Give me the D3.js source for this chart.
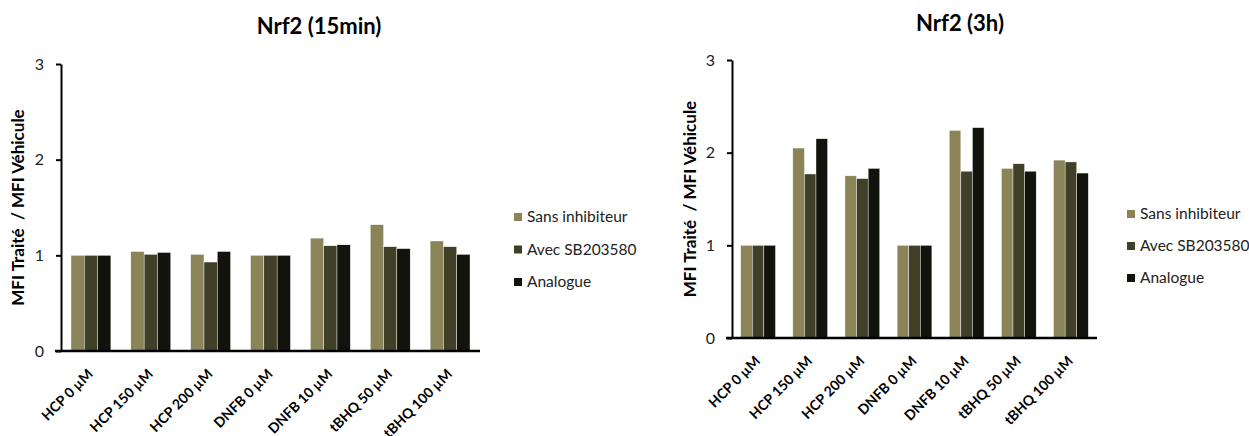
<!DOCTYPE html>
<html><head><meta charset="utf-8">
<script src="https://cdn.jsdelivr.net/npm/d3@7/dist/d3.min.js"></script>
<style>
body{margin:0;background:#fff;}
svg{display:block;font-family:Lato,"Open Sans",sans-serif;}
</style></head>
<body><svg id="c" width="1249" height="436"></svg>
<script>
const categories = ["HCP 0 µM","HCP 150 µM","HCP 200 µM","DNFB 0 µM","DNFB 10 µM","tBHQ 50 µM","tBHQ 100 µM"];
const seriesNames = ["Sans inhibiteur","Avec SB203580","Analogue"];
const colors = ["#8a8458","#403f28","#13130d"];
const yTicks = [0,1,2,3];
// Nrf2 (15min)
const sans15 = [1.00,1.04,1.01,1.00,1.18,1.32,1.15];
const avec15 = [1.00,1.01,0.93,1.00,1.10,1.09,1.09];
const ana15  = [1.00,1.03,1.04,1.00,1.11,1.07,1.01];
// Nrf2 (3h)
const sans3h = [1.00,2.05,1.75,1.00,2.24,1.83,1.92];
const avec3h = [1.00,1.77,1.72,1.00,1.80,1.88,1.90];
const ana3h  = [1.00,2.15,1.83,1.00,2.27,1.80,1.78];

const svg = d3.select("#c");

function drawChart(o){
  const g = svg.append("g");
  const x0 = d3.scaleBand().domain(categories).range([o.x0,o.x1]).paddingInner(1/3).paddingOuter(1/6);
  const x1 = d3.scaleBand().domain(seriesNames).range([0,x0.bandwidth()]);
  const y = d3.scaleLinear().domain([0,3]).range([o.y0,o.y1]);
  const series = [o.s1,o.s2,o.s3];
  const rows = categories.map((c,i)=>({c, vals: series.map((s,k)=>({k, v:s[i]}))}));
  const grp = g.selectAll("g.grp").data(rows).join("g").attr("transform",d=>`translate(${x0(d.c)},0)`);
  grp.selectAll("rect").data(d=>d.vals).join("rect")
    .attr("x",d=>x1(seriesNames[d.k])).attr("width",x1.bandwidth())
    .attr("y",d=>y(d.v)).attr("height",d=>y(0)-y(d.v))
    .attr("fill",d=>colors[d.k]).attr("stroke","#fff").attr("stroke-width",0.4);
  // y axis
  const ya = g.append("g").attr("transform",`translate(${o.x0},0)`)
    .call(d3.axisLeft(y).tickValues(yTicks).tickFormat(d3.format("d")).tickSize(5).tickSizeOuter(0));
  ya.select(".domain").attr("stroke","#000").attr("stroke-width",2);
  ya.selectAll(".tick line").attr("stroke","#000").attr("stroke-width",2);
  ya.selectAll(".tick text").attr("font-size",16).attr("fill","#222").attr("x",-17).attr("font-family","Lato,sans-serif");
  // x axis
  const xa = g.append("g").attr("transform",`translate(0,${o.y0})`)
    .call(d3.axisBottom(x0).tickSize(0).tickSizeOuter(0));
  xa.select(".domain").attr("stroke","#000").attr("stroke-width",2.5).attr("d",`M${o.x0-6},0H${o.x1}`);
  xa.selectAll(".tick text").attr("font-size",14).attr("font-weight","bold").attr("fill","#000")
    .attr("text-anchor","end").attr("dy",0).attr("y",0)
    .attr("transform","translate(3,24) rotate(-45)").attr("font-family","Lato,sans-serif");
  // title
  g.append("text").attr("x",o.tx).attr("y",o.ty).attr("text-anchor","middle")
    .attr("font-size",22).attr("font-weight","bold").attr("fill","#000").text(o.title);
  // y label
  g.append("text").attr("transform",`translate(${o.lx},${(o.y0+o.y1)/2}) rotate(-90)`)
    .attr("text-anchor","middle").attr("font-size",17).attr("font-weight","bold").attr("fill","#000")
    .attr("dy","0.35em").attr("xml:space","preserve").text("MFI Traité  / MFI Véhicule");
  // legend
  const lg = g.append("g").attr("transform",`translate(${o.legX},${o.legY})`);
  const li = lg.selectAll("g").data(seriesNames).join("g").attr("transform",(d,i)=>`translate(0,${i*o.legStep})`);
  li.append("rect").attr("x",0).attr("y",-4).attr("width",8).attr("height",8).attr("fill",(d,i)=>colors[i]);
  li.append("text").attr("x",13).attr("dy","0.35em").attr("font-size",15.5).attr("fill","#222").text(d=>d);
}

drawChart({x0:61,x1:480,y0:351,y1:64,s1:sans15,s2:avec15,s3:ana15,title:"Nrf2 (15min)",tx:319,ty:34,lx:18,legX:514,legY:217,legStep:32.5});
drawChart({x0:732,x1:1097,y0:338,y1:60,s1:sans3h,s2:avec3h,s3:ana3h,title:"Nrf2 (3h)",tx:960,ty:31,lx:690,legX:1127,legY:214,legStep:32});
</script></body></html>
